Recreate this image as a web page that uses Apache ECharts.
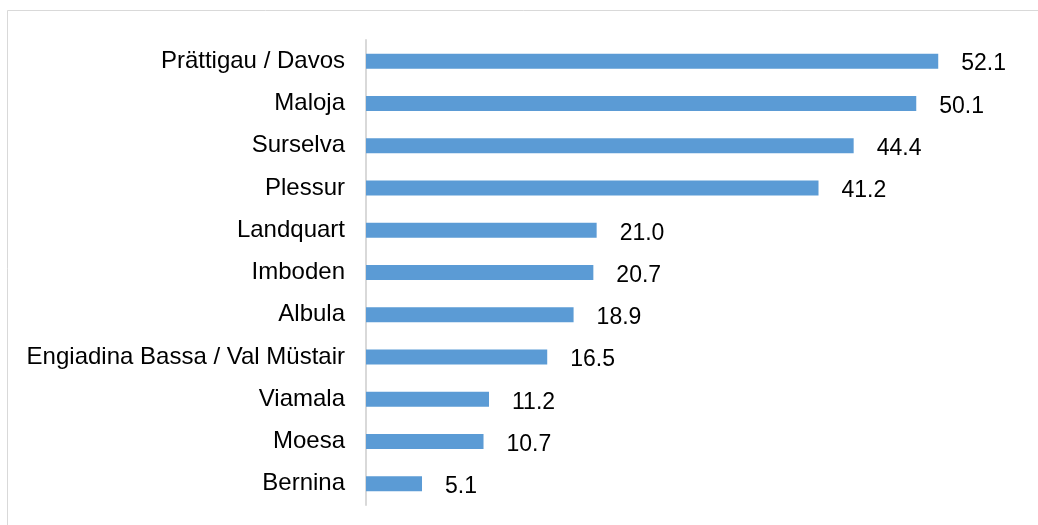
<!DOCTYPE html>
<html>
<head>
<meta charset="utf-8">
<script src="https://cdn.jsdelivr.net/npm/echarts@6/dist/echarts.min.js"></script>
<style>html,body{margin:0;padding:0;background:#fff}#c{width:1038px;height:525px}</style>
</head>
<body>
<div id="c"></div>
<script>
const categories = ["Prättigau / Davos","Maloja","Surselva","Plessur","Landquart","Imboden","Albula","Engiadina Bassa / Val Müstair","Viamala","Moesa","Bernina"];
const values = [52.1,50.1,44.4,41.2,21.0,20.7,18.9,16.5,11.2,10.7,5.1];

const chart = echarts.init(document.getElementById('c'), null, {renderer:'canvas'});
chart.setOption({
  animation:false,
  backgroundColor:'#fff',
  graphic:[{type:'rect',shape:{x:7.5,y:10.5,width:1100,height:700},style:{fill:'none',stroke:'#d9d9d9',lineWidth:1},silent:true}],
  grid:{left:366,top:40,right:13,bottom:20,containLabel:false},
  xAxis:{type:'value',min:0,max:60,show:false},
  yAxis:{type:'category',inverse:true,data:categories,
    axisLine:{show:true,lineStyle:{color:'#d9d9d9',width:2}},
    axisTick:{show:false},
    axisLabel:{color:'#000',fontFamily:'Liberation Sans, Arial, sans-serif',fontSize:24,margin:21}
  },
  series:[{type:'bar',data:values,barWidth:15,
    itemStyle:{color:'#5B9BD5'},
    label:{show:true,position:'right',distance:23,offset:[0,3],color:'#000',fontFamily:'Liberation Sans, Arial, sans-serif',fontSize:23,
      formatter:p=>p.value.toFixed(1)}
  }]
});
</script>
</body>
</html>
